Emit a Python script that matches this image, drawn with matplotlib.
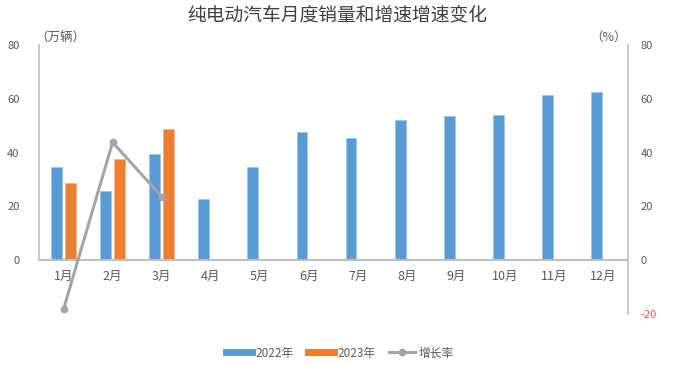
import matplotlib
matplotlib.use("Agg")
import matplotlib.pyplot as plt
from matplotlib.lines import Line2D
import numpy as np

plt.rcParams['font.family'] = ['Noto Sans CJK SC', 'DejaVu Sans']

months = ['1月', '2月', '3月', '4月', '5月', '6月', '7月', '8月', '9月', '10月', '11月', '12月']
sales_2022 = [34.6, 25.8, 39.4, 22.9, 34.6, 47.6, 45.6, 52.1, 53.7, 54.0, 61.5, 62.5]
sales_2023 = [28.7, 37.5, 48.7]
growth = [-18.2, 43.8, 23.6]
left_ticks = [0, 20, 40, 60, 80]
right_ticks = [-20, 0, 20, 40, 60, 80]

blue = '#5B9BD5'
orange = '#ED7D31'
gray = '#A5A5A5'
axis_gray = '#BFBFBF'
text_gray = '#595959'

fig = plt.figure(figsize=(6.81, 3.65), dpi=100)
ax = fig.add_axes([39/681, 1-314/365, (628-39)/681, (314-45)/365])

x = np.arange(len(months))
w = 0.22
off = 0.143
ax.bar(x - off, sales_2022, width=w, color=blue, edgecolor='#9DC3E6', linewidth=0.5, zorder=2)
ax.bar(x[:len(sales_2023)] + off, sales_2023, width=w, color=orange, edgecolor='#F4B183', linewidth=0.5, zorder=2)

ax.set_xlim(-0.5, len(months) - 0.5)
ax.set_ylim(-20, 80)

ax2 = ax.twinx()
ax2.set_ylim(-20, 80)
ax2.plot(x[:len(growth)], growth, color=gray, linewidth=2.2, marker='o', markersize=4.5, zorder=5)
ax2.set_zorder(ax.get_zorder() + 1)
ax2.patch.set_visible(False)

for a in (ax, ax2):
    for s in a.spines.values():
        s.set_visible(False)

ax.spines['left'].set_visible(True)
ax.spines['left'].set_bounds(0, 80)
ax.spines['left'].set_color(axis_gray)
ax.spines['left'].set_linewidth(1.2)
ax2.spines['right'].set_visible(True)
ax2.spines['right'].set_bounds(-20, 80)
ax2.spines['right'].set_color(axis_gray)
ax2.spines['right'].set_linewidth(1.2)
ax.axhline(0, color=axis_gray, linewidth=1.5, zorder=3)

ax.set_yticks(left_ticks)
ax.set_yticklabels([str(t) for t in left_ticks])
ax.tick_params(axis='y', length=0, pad=14, labelsize=8, labelcolor=text_gray)
ax2.set_yticks(right_ticks)
ax2.set_yticklabels([str(t) for t in right_ticks])
ax2.tick_params(axis='y', length=0, pad=9, labelsize=8, labelcolor=text_gray)
for lbl in ax2.get_yticklabels():
    if lbl.get_text().startswith('-'):
        lbl.set_color('#FF5050')

ax.set_xticks([])
for i, m in enumerate(months):
    ax.text(i, -6, m, ha='center', va='center', fontsize=9, color=text_gray)

fig.text(35/681, 1-37/365, '（万辆）', ha='left', va='center', fontsize=9, color=text_gray)
fig.text(627/681, 1-37/365, '（%）', ha='right', va='center', fontsize=9, color=text_gray)

fig.text(337/681, 1-15/365, '纯电动汽车月度销量和增速增速变化', ha='center', va='center',
         fontsize=13.5, color='#404040')

handles = [
    Line2D([0], [0], color=blue, linewidth=5),
    Line2D([0], [0], color=orange, linewidth=5),
    Line2D([0], [0], color=gray, linewidth=2.2, marker='o', markersize=4.5),
]
fig.legend(handles, ['2022年', '2023年', '增长率'], loc='center', bbox_to_anchor=(340/681, 1-353/365),
           ncol=3, frameon=False, fontsize=8.5, handlelength=2.2, handletextpad=0.3, columnspacing=1.2,
           labelcolor=text_gray)

fig.savefig('out.png', dpi=100)
